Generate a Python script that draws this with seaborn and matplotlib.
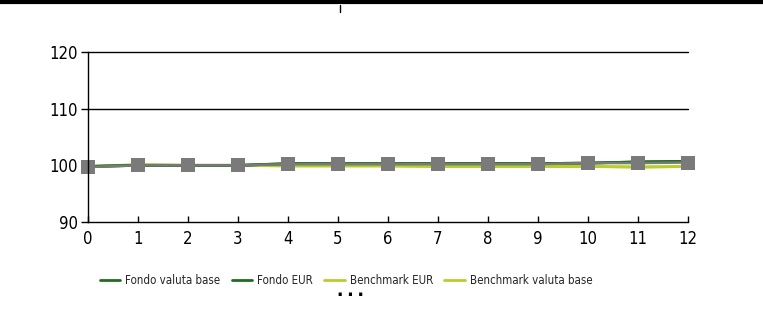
import numpy as np
import pandas as pd
import matplotlib
matplotlib.use('Agg')
import matplotlib.pyplot as plt
import seaborn as sns
from matplotlib.lines import Line2D

# values
months = list(range(13))
fondo_valuta_base = [99.8, 100.0, 100.0, 100.0, 100.3, 100.3, 100.3, 100.3, 100.3, 100.3, 100.4, 100.6, 100.7]
fondo_eur = [99.8, 100.0, 100.0, 100.0, 100.3, 100.3, 100.3, 100.3, 100.3, 100.3, 100.4, 100.6, 100.7]
benchmark_eur = [99.8, 100.1, 100.0, 100.0, 99.9, 99.9, 99.9, 99.8, 99.8, 99.8, 99.8, 99.7, 99.8]
benchmark_valuta_base = [99.8, 100.1, 100.0, 100.0, 99.9, 99.9, 99.9, 99.8, 99.8, 99.8, 99.8, 99.7, 99.8]
fondo_marker = [99.7, 100.0, 100.0, 100.0, 100.2, 100.2, 100.2, 100.2, 100.2, 100.2, 100.4, 100.4, 100.5]
legend_labels = ['Fondo valuta base', 'Fondo EUR', 'Benchmark EUR', 'Benchmark valuta base']

sns.set_style('white')
plt.rcParams['font.family'] = ['DejaVu Sans']
plt.rcParams['font.stretch'] = 'condensed'

dark_green = '#1f6e1f'
light_green = '#b8cf2a'
grey = '#7a7a7a'

fig = plt.figure(figsize=(7.63, 3.33), dpi=100)
ax = fig.add_axes([0.1153, 0.3333, 0.7864, 0.5105])

# grid lines behind the data
for v in [110, 120]:
    ax.axhline(v, color='black', lw=1.0, zorder=0)

sns.lineplot(x=months, y=benchmark_valuta_base, ax=ax, color=light_green, lw=2)
sns.lineplot(x=months, y=benchmark_eur, ax=ax, color=light_green, lw=2)
sns.lineplot(x=months, y=fondo_valuta_base, ax=ax, color=dark_green, lw=2)
sns.lineplot(x=months, y=fondo_eur, ax=ax, color=dark_green, lw=2)
sns.lineplot(x=months, y=fondo_marker, ax=ax, color=grey, lw=1.8,
             marker='s', markersize=9.5, markeredgewidth=0)

ax.set_xlim(0, 12)
ax.set_ylim(90, 120)
ax.set_xticks(months)
ax.set_yticks([90, 100, 110, 120])
for line in ax.lines:
    line.set_clip_on(False)

for s in ['top', 'right']:
    ax.spines[s].set_visible(False)
for s in ['left', 'bottom']:
    ax.spines[s].set_color('black')
    ax.spines[s].set_linewidth(1.0)

ax.tick_params(axis='y', direction='out', length=5, width=1, labelsize=12, pad=2, colors='black', left=True)
ax.tick_params(axis='x', direction='in', length=4, width=1, labelsize=12, pad=6, colors='black', bottom=True)

handles = [Line2D([], [], color=dark_green, lw=2),
           Line2D([], [], color=dark_green, lw=2),
           Line2D([], [], color=light_green, lw=2),
           Line2D([], [], color=light_green, lw=2)]
fig.legend(handles, legend_labels, loc='center', bbox_to_anchor=(0.4535, 0.159), ncol=4,
           frameon=False, fontsize=8.3, handlelength=1.8, handletextpad=0.4,
           columnspacing=1.0, borderpad=0, borderaxespad=0)

# page decoration at top
fig.add_artist(Line2D([0, 1], [0.995, 0.995], color='black', lw=3, transform=fig.transFigure))
fig.add_artist(Line2D([0.446, 0.446], [0.985, 0.965], color='black', lw=1, transform=fig.transFigure))
fig.text(0.459, 0.118, '\u25aa   \u25aa   \u25aa', ha='center', va='center', fontsize=5, color='black')

fig.savefig('out.png', dpi=100, facecolor='white')
